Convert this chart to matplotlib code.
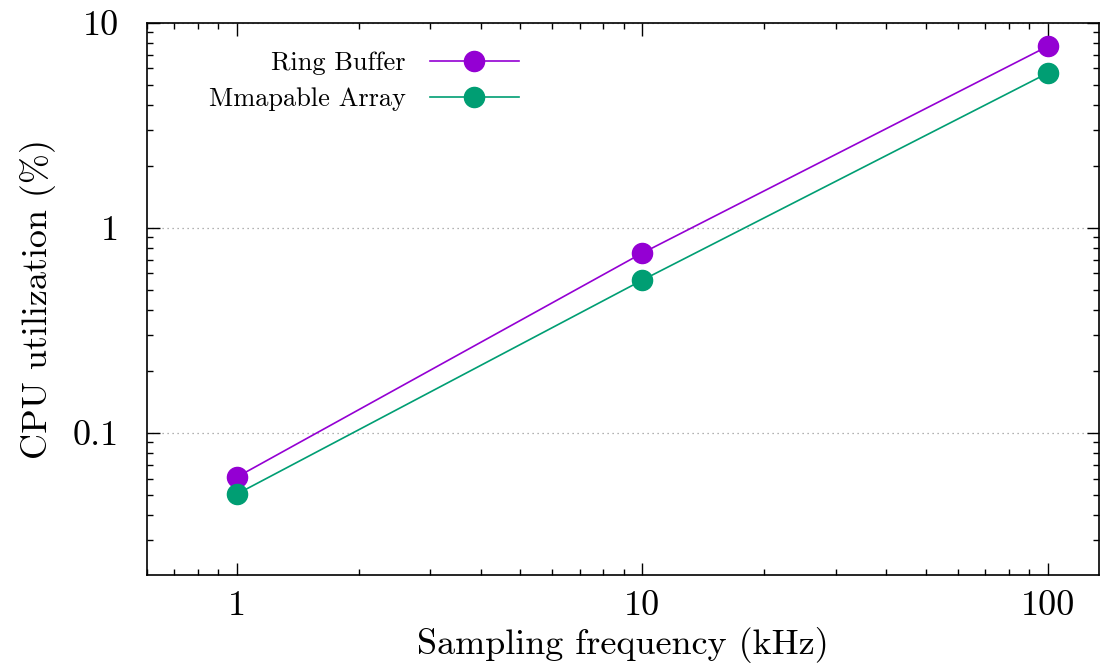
import matplotlib
matplotlib.use("Agg")
import matplotlib.pyplot as plt
from matplotlib.ticker import LogLocator, FuncFormatter, NullFormatter

plt.rcParams['font.family'] = 'serif'
plt.rcParams['font.serif'] = ['cmr10']
plt.rcParams['mathtext.fontset'] = 'cm'
plt.rcParams['axes.unicode_minus'] = False

freq_khz = [1, 10, 100]
ring_buffer = [0.061, 0.755, 7.7]
mmapable_array = [0.0504, 0.557, 5.7]

fig = plt.figure(figsize=(11.01, 6.70), dpi=100)
ax = fig.add_axes([0.1335, 0.1418, 0.865, 0.8239])

ax.plot(freq_khz, ring_buffer, '-o', color='#9400D3', linewidth=1.2,
        markersize=14.5, label='Ring Buffer')
ax.plot(freq_khz, mmapable_array, '-o', color='#009E73', linewidth=1.2,
        markersize=14.5, label='Mmapable Array')

ax.set_xscale('log')
ax.set_yscale('log')
ax.set_xlim(0.6, 134)
ax.set_ylim(0.0203, 10)

fmt = FuncFormatter(lambda v, p: '%g' % v)
ax.xaxis.set_major_locator(LogLocator(base=10, numticks=10))
ax.yaxis.set_major_locator(LogLocator(base=10, numticks=10))
ax.xaxis.set_minor_locator(LogLocator(base=10, subs=range(2, 10), numticks=20))
ax.yaxis.set_minor_locator(LogLocator(base=10, subs=range(2, 10), numticks=20))
ax.xaxis.set_major_formatter(fmt)
ax.yaxis.set_major_formatter(fmt)
ax.xaxis.set_minor_formatter(NullFormatter())
ax.yaxis.set_minor_formatter(NullFormatter())

ax.tick_params(which='both', direction='in', top=True, right=True, width=1)
ax.tick_params(which='major', length=9, labelsize=26)
ax.tick_params(axis='x', which='major', pad=11)
ax.tick_params(axis='y', which='major', pad=20)
ax.tick_params(which='minor', length=4.5)
for s in ax.spines.values():
    s.set_linewidth(1.2)

ax.yaxis.grid(True, which='major', linestyle=(0, (1, 3)), color='#999999', linewidth=0.9)

ax.set_xlabel('Sampling frequency (kHz)', fontsize=26, labelpad=4)
ax.set_ylabel('CPU utilization (%)', fontsize=26, labelpad=12)

ax.legend(loc='upper right', frameon=False, markerfirst=False, fontsize=19,
          handlelength=3.4, handletextpad=0.9, labelspacing=0.46,
          borderaxespad=0, bbox_to_anchor=(0.402, 0.967))

fig.savefig('out.png', dpi=100)
